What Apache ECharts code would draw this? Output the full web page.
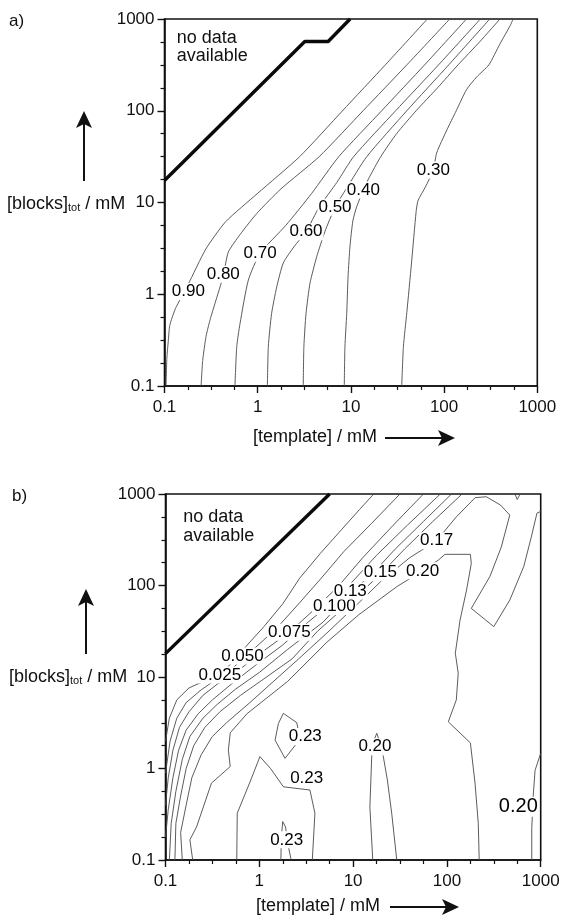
<!DOCTYPE html>
<html>
<head>
<meta charset="utf-8">
<title>Template effect contour plots</title>
<script src="https://cdn.jsdelivr.net/npm/echarts@6/dist/echarts.min.js"></script>
<style>
  html, body { margin: 0; padding: 0; background: #fff; }
  #chart { width: 563px; height: 919px; }
</style>
</head>
<body>
<div id="chart"></div>
<script>
// decade tick labels (both axes, both panels), mM
const tickLabels = ['0.1', '1', '10', '100', '1000'];

// panel a) contour lines, points are [template mM, blocks mM]
const a090 = [[0.104,0.1],[0.106,0.2],[0.110,0.316],[0.114,0.459],[0.131,0.697],[0.178,1.26],[0.278,3.12],[0.453,6.17],[1.0,12.6],[2.82,31.6],[8.13,100],[23.4,316],[66.1,1000]];
const a080 = [[0.247,0.1],[0.257,0.19],[0.279,0.347],[0.308,0.525],[0.348,0.794],[0.427,1.585],[0.484,2.88],[0.646,4.47],[0.977,7.59],[1.78,14.1],[4.57,31.6],[13.5,100],[39.8,316],[115,1000]];
const a070 = [[0.570,0.1],[0.596,0.269],[0.646,0.479],[0.794,1.43],[1.06,2.79],[2.0,5.62],[3.80,12.6],[7.41,31.6],[21.4,100],[61.7,316],[174,1000]];
const a060 = [[1.27,0.1],[1.30,0.269],[1.41,0.617],[1.60,1.20],[1.88,2.19],[2.46,3.31],[3.30,4.81],[4.57,8.91],[7.08,16.6],[10.7,31.6],[30.2,100],[87.1,316],[245,1000]];
const a050 = [[3.08,0.1],[3.13,0.269],[3.30,0.617],[3.64,1.32],[4.30,2.57],[5.25,4.79],[6.75,8.85],[8.91,14.1],[14.8,31.6],[39.8,100],[112,316],[309,1000]];
const a040 = [[8.49,0.1],[8.63,0.269],[9.02,0.617],[9.33,1.585],[9.77,3.31],[10.5,6.31],[11.5,8.91],[13.6,13.7],[15.5,18.2],[20.9,31.6],[30.9,56.2],[50.1,100],[85.1,178],[141,316],[240,562],[398,1000]];
const a030 = [[35.1,0.1],[36.6,0.269],[39.8,0.631],[44.7,2.19],[50.1,7.94],[52.5,10.5],[63.1,14.8],[76.6,22.6],[83.2,34.7],[107,61.7],[135,100],[174,170],[224,234],[302,316],[398,537],[513,851],[550,1000]];
const aEdge = [[0.1,17.4],[3.2,568],[5.7,568],[9.8,1000]];
const aLabels = [[0.18,1.07,'0.90'],[0.427,1.65,'0.80'],[1.06,2.79,'0.70'],[3.30,4.81,'0.60'],[6.75,8.85,'0.50'],[13.6,13.7,'0.40'],[76.6,22.6,'0.30']];

// panel b) contour lines
const b025 = [[0.1,2.0],[0.110,3.55],[0.132,5.62],[0.178,7.59],[0.251,8.91],[0.389,10.7],[0.525,14.8],[0.759,22.9],[1.12,35.5],[1.78,63.1],[2.69,120],[4.47,224],[7.08,380],[11.7,676],[16.6,1000]];
const b050 = [[0.1,0.891],[0.112,2.0],[0.132,3.55],[0.166,5.25],[0.240,7.24],[0.355,9.55],[0.501,12.0],[0.661,15.8],[1.0,22.9],[1.585,35.5],[2.63,63.1],[4.47,117],[7.94,234],[15.8,479],[31.6,1000]];
const b075 = [[0.1,0.398],[0.107,0.794],[0.120,1.585],[0.141,2.82],[0.178,4.17],[0.251,6.31],[0.355,8.32],[0.562,11.2],[1.0,17.8],[2.09,30.9],[3.98,56.2],[7.08,100],[12.6,200],[26.3,447],[56.2,1000]];
const b100 = [[0.1,0.178],[0.107,0.355],[0.120,0.794],[0.138,1.585],[0.166,2.63],[0.224,3.98],[0.316,5.62],[0.501,8.32],[0.891,13.2],[1.78,22.4],[3.31,39.8],[5.75,63.1],[10,112],[17.8,214],[38.0,457],[85.1,1000]];
const b130 = [[0.110,0.1],[0.115,0.251],[0.129,0.562],[0.151,1.26],[0.182,2.24],[0.251,3.55],[0.355,5.01],[0.562,7.41],[1.0,11.2],[2.0,20.0],[4.79,39.8],[9.33,83.2],[15.8,132],[28.2,251],[56.2,501],[112,1000]];
const b150 = [[0.126,0.1],[0.129,0.251],[0.145,0.501],[0.166,1.0],[0.200,1.78],[0.263,2.82],[0.380,4.17],[0.631,6.31],[1.12,9.55],[2.24,15.8],[4.17,31.6],[8.91,63.1],[19.5,132],[35.5,251],[70.8,501],[145,1000]];
const b170 = [[0.151,0.1],[0.145,0.2],[0.166,0.398],[0.191,0.794],[0.240,1.41],[0.316,2.24],[0.447,3.16],[0.794,5.25],[1.41,8.91],[2.63,15.8],[5.25,30.2],[11.2,63.1],[20.0,112],[39.8,200],[77.6,309],[126,562],[200,912],[263,933],[372,759],[468,589],[380,263],[288,126],[182,56.2],[316,35.5],[468,69.2],[661,162],[794,339],[912,617],[1000,646]];
const b200 = [[0.195,0.1],[0.182,0.166],[0.214,0.229],[0.309,0.692],[0.490,1.05],[0.468,1.585],[0.490,2.455],[0.741,3.98],[1.995,8.91],[5.25,24.0],[11.5,47.9],[29.5,97.7],[55.0,145],[81.3,190],[95.5,219],[178,219],[182,174],[162,89.1],[138,41.7],[123,18.2],[132,11.0],[126,5.62],[103.5,3.24],[178,1.905],[199.5,0.692],[216,0.251],[221,0.1]];
const b200mid = [[16.2,0.1],[15.1,0.38],[15.8,1.349],[17.0,2.138],[17.9,2.427],[19.05,1.995],[21.0,1.349],[23.2,0.748],[25.8,0.324],[29.2,0.1]];
const b200right = [[1000,1.466],[871,0.955],[832,0.501],[803,0.221],[803,0.1]];
const b230arch = [[0.575,0.1],[0.582,0.324],[0.794,0.708],[1.016,1.349],[1.318,1.0],[1.807,0.631],[3.467,0.582],[3.917,0.324],[3.673,0.1]];
const b230island = [[1.807,4.01],[2.506,3.17],[2.63,2.51],[2.399,1.778],[1.879,1.291],[1.472,2.046],[1.6,3.11],[1.807,4.01]];
const b230small = [[1.698,0.1],[1.718,0.178],[1.778,0.263],[1.905,0.229],[1.995,0.158],[2.188,0.1]];
const bTopNotch = [[532,1000],[562,871],[603,1000]];
const bEdge = [[0.1,18.0],[5.62,1000]];
const bLabels = [[0.38,10.5,'0.025'],[0.661,17.0,'0.050'],[2.09,30.9,'0.075'],[6.31,58.9,'0.100'],[9.33,87.1,'0.13'],[19.5,138,'0.15'],[55.0,144.5,'0.20'],[77.6,309,'0.17'],[3.09,2.24,'0.23'],[17.1,1.73,'0.20'],[3.2,0.778,'0.23'],[1.96,0.166,'0.23']];
const bBigLabel = [[577,0.382,'0.20']];

const ink = '#111';
const lineInk = '#4a4a4a';
const font = '"Liberation Sans", Arial, sans-serif';

const grids = [
  { left: 164.5, top: 19, width: 372.8, height: 367 },
  { left: 165.5, top: 494, width: 375.2, height: 366 }
];

function logAxis(gridIndex) {
  return { type: 'log', logBase: 10, min: 0.1, max: 1000, gridIndex, show: false };
}

function tickAxis(gridIndex, position) {
  return {
    type: 'value', gridIndex, position, min: -1, max: 3, interval: 1,
    axisLine: { show: true, onZero: false, lineStyle: { color: ink, width: 1.6 } },
    axisTick: { show: true, length: 7, lineStyle: { color: ink, width: 1.4 } },
    minorTick: { show: true, splitNumber: 4, length: 4, lineStyle: { color: ink, width: 1.2 } },
    splitLine: { show: false },
    minorSplitLine: { show: false },
    axisLabel: {
      formatter: v => tickLabels[Math.round(v) + 1],
      showMinLabel: true, showMaxLabel: true,
      fontSize: 17, color: ink, fontFamily: font,
      margin: position === 'bottom' ? 13 : 10
    }
  };
}

function contour(data, panel, smooth) {
  return {
    type: 'line', xAxisIndex: panel * 2, yAxisIndex: panel * 2, data,
    symbol: 'none', showSymbol: false, smooth: smooth || false, silent: true, z: 2,
    lineStyle: { color: lineInk, width: 0.9 }
  };
}

function edge(data, panel) {
  return {
    type: 'line', xAxisIndex: panel * 2, yAxisIndex: panel * 2, data,
    symbol: 'none', showSymbol: false, silent: true, z: 3,
    lineStyle: { color: '#0a0a0a', width: 3.4 }
  };
}

function labels(list, panel, size) {
  return {
    type: 'scatter', xAxisIndex: panel * 2, yAxisIndex: panel * 2, symbolSize: 1, silent: true, z: 5,
    itemStyle: { color: 'rgba(255,255,255,0)', opacity: 1 },
    label: {
      show: true, position: 'inside', formatter: p => p.name, opacity: 1,
      fontSize: size, color: '#000', fontFamily: font,
      textBorderWidth: 0, textBorderColor: 'transparent',
      backgroundColor: '#fff', padding: [0, 1]
    },
    data: list.map(l => ({ name: l[2], value: [l[0], l[1]] }))
  };
}

function txt(x, y, text, size, extra) {
  return {
    type: 'text', silent: true, z: 10,
    style: Object.assign({
      x, y, text, fill: ink, fontSize: size, fontFamily: font,
      textAlign: 'left', textVerticalAlign: 'middle', align: 'left', verticalAlign: 'middle'
    }, extra || {})
  };
}

function upArrow(x, tip, bottom) {
  return [
    { type: 'line', silent: true, shape: { x1: x, y1: bottom, x2: x, y2: tip + 12 }, style: { stroke: ink, lineWidth: 2 } },
    { type: 'polygon', silent: true, shape: { points: [[x, tip], [x - 8, tip + 17], [x, tip + 13], [x + 8, tip + 17]] }, style: { fill: ink } }
  ];
}

function rightArrow(y, start, tip) {
  return [
    { type: 'line', silent: true, shape: { x1: start, y1: y, x2: tip - 12, y2: y }, style: { stroke: ink, lineWidth: 2 } },
    { type: 'polygon', silent: true, shape: { points: [[tip, y], [tip - 17, y - 8], [tip - 13, y], [tip - 17, y + 8]] }, style: { fill: ink } }
  ];
}

const yTitleRich = { sub: { fontSize: 11, verticalAlign: 'bottom', fontFamily: font, fill: ink } };

const chart = echarts.init(document.getElementById('chart'), null, { renderer: 'canvas' });
chart.setOption({
  animation: false,
  backgroundColor: '#fff',
  textStyle: { fontFamily: font },
  grid: grids.map(g => Object.assign({ show: true, borderColor: ink, borderWidth: 1.6, containLabel: false }, g)),
  xAxis: [logAxis(0), tickAxis(0, 'bottom'), logAxis(1), tickAxis(1, 'bottom')],
  yAxis: [logAxis(0), tickAxis(0, 'left'), logAxis(1), tickAxis(1, 'left')],
  series: [
    contour(a090, 0, 0.2), contour(a080, 0, 0.2), contour(a070, 0, 0.2), contour(a060, 0, 0.2),
    contour(a050, 0, 0.2), contour(a040, 0, 0.2), contour(a030, 0, 0.2),
    edge(aEdge, 0),
    labels(aLabels, 0, 17),
    contour(b025, 1), contour(b050, 1), contour(b075, 1), contour(b100, 1),
    contour(b130, 1), contour(b150, 1), contour(b170, 1), contour(b200, 1),
    contour(b200mid, 1), contour(b200right, 1), contour(b230arch, 1),
    contour(b230island, 1), contour(b230small, 1), contour(bTopNotch, 1),
    edge(bEdge, 1),
    labels(bLabels, 1, 17),
    labels(bBigLabel, 1, 20)
  ],
  graphic: [
    // panel a
    txt(9, 21, 'a)', 17),
    txt(176.7, 38.5, 'no data', 18),
    txt(176.7, 56.5, 'available', 18),
    txt(7, 204, '[blocks]{sub|tot} / mM', 18, { rich: yTitleRich }),
    txt(253, 437, '[template] / mM', 18),
    ...upArrow(84, 111, 181),
    ...rightArrow(438, 385, 455),
    // panel b
    txt(12, 496, 'b)', 17),
    txt(183.3, 517.5, 'no data', 18),
    txt(183.3, 536, 'available', 18),
    txt(9, 677, '[blocks]{sub|tot} / mM', 18, { rich: yTitleRich }),
    txt(256, 906, '[template] / mM', 18),
    ...upArrow(86, 589, 654),
    ...rightArrow(907, 390, 459)
  ]
});
</script>
</body>
</html>
